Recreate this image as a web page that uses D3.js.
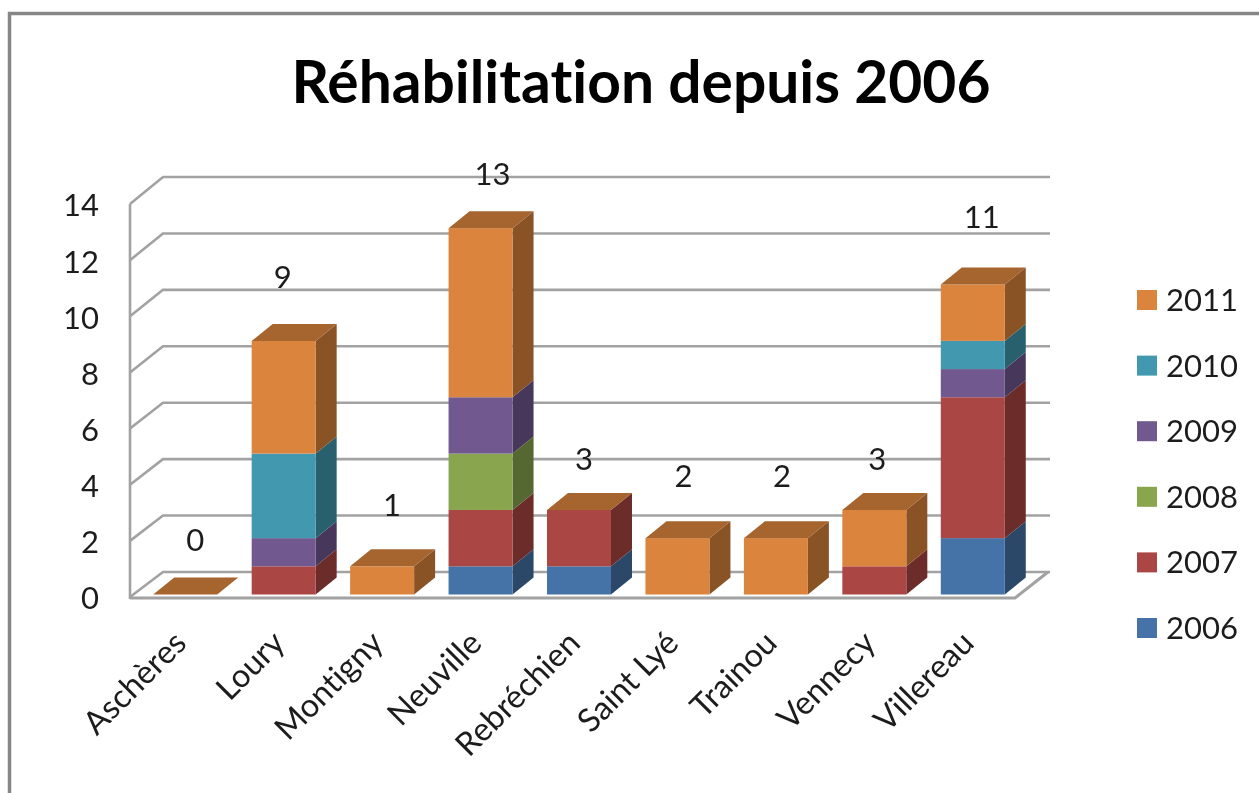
<!doctype html>
<html lang="fr">
  <head>
    <meta charset="UTF-8" />
    <title>Réhabilitation depuis 2006</title>
    <script src="https://d3js.org/d3.v7.min.js"></script>
    <style>
      html,
      body {
        margin: 0;
        background: #fff;
        overflow: hidden;
      }
      svg {
        display: block;
        filter: blur(0.45px);
      }
      text {
        font-family: Lato, 'Open Sans', sans-serif;
        font-variant-ligatures: none;
        fill: #1c1c1c;
      }
      .title {
        font-size: 58.7px;
        font-weight: 700;
        fill: #000;
        text-anchor: middle;
      }
      .wall line,
      .wall path {
        stroke: #a2a2a2;
        stroke-width: 2.6;
        fill: none;
      }
      .legend-label,
      .data-label {
        font-size: 31px;
      }
      .cat-label {
        font-size: 32.5px;
      }
      .data-label {
        text-anchor: middle;
      }
    </style>
  </head>
  <body>
    <svg id="chart" width="1259" height="793"></svg>

    <script>
      const communes = ['Aschères', 'Loury', 'Montigny', 'Neuville', 'Rebréchien', 'Saint Lyé', 'Trainou', 'Vennecy', 'Villereau']
      const years = ['2006', '2007', '2008', '2009', '2010', '2011']

      const values2006 = [0, 0, 0, 1, 1, 0, 0, 0, 2]
      const values2007 = [0, 1, 0, 2, 2, 0, 0, 1, 5]
      const values2008 = [0, 0, 0, 2, 0, 0, 0, 0, 0]
      const values2009 = [0, 1, 0, 2, 0, 0, 0, 0, 1]
      const values2010 = [0, 3, 0, 0, 0, 0, 0, 0, 1]
      const values2011 = [0, 4, 1, 6, 0, 2, 2, 2, 2]

      const yTicks = [0, 2, 4, 6, 8, 10, 12, 14]
      const colors = ['#4572a7', '#aa4643', '#89a54e', '#71588f', '#4198af', '#db843d']

      const series = [values2006, values2007, values2008, values2009, values2010, values2011]
      const rows = communes.map((c, i) => {
        const row = { commune: c }
        years.forEach((yr, k) => (row[yr] = series[k][i]))
        return row
      })
      const stacked = d3.stack().keys(years)(rows)
      const totals = rows.map((r) => d3.sum(years, (yr) => r[yr]))

      const svg = d3.select('#chart')

      // depth of the fake 3D
      const depthX = 21
      const depthY = -17

      const x = d3
        .scaleBand()
        .domain(communes)
        .range([136, 1022])
        .paddingInner(0.35)
        .paddingOuter(0.175)

      const yAxisScale = d3.scaleLinear().domain([0, 14]).range([597, 204])
      const yBack = d3.scaleLinear().domain([0, 14]).range([572, 177])
      const yBar = d3.scaleLinear().domain([0, 14]).range([594.5, 200])

      // outer frame, only left and top are visible
      svg
        .append('path')
        .attr('d', 'M9.5,793V13.5H1259')
        .attr('fill', 'none')
        .attr('stroke', '#878787')
        .attr('stroke-width', 3.5)

      svg.append('text').attr('class', 'title').attr('x', 641).attr('y', 103).text('Réhabilitation depuis 2006')

      // side wall + back gridlines
      const wall = svg.append('g').attr('class', 'wall')
      yTicks.forEach((t) => {
        wall
          .append('path')
          .attr('d', `M130,${yAxisScale(t)}L163,${yBack(t)}H1050`)
      })
      wall.append('line').attr('x1', 130).attr('x2', 130).attr('y1', yAxisScale(14)).attr('y2', yAxisScale(0) + 2)
      wall
        .append('path')
        .attr('d', `M130,${yAxisScale(0) + 1}H1015L1048,${yBack(0)}`)
        .style('stroke-width', 3)

      // tick labels
      const yAxis = d3.axisLeft(yAxisScale).tickValues(yTicks).tickSize(0).tickPadding(31)
      const axisG = svg.append('g').attr('transform', 'translate(130,2)').call(yAxis)
      axisG.select('.domain').remove()
      axisG.selectAll('text').attr('fill', null).style('font-size', '31px')
      axisG.attr('font-family', null).attr('font-size', null)

      // bars, left to right then bottom to top
      const bars = svg.append('g')
      const capColor = d3.rgb(colors[years.length - 1])
      communes.forEach((c, i) => {
        const bx = x(c)
        const bw = x.bandwidth()
        stacked.forEach((layer, k) => {
          const [y0, y1] = layer[i]
          if (y1 === y0) return
          const col = d3.rgb(colors[k])
          const py0 = yBar(y0)
          const py1 = yBar(y1)
          bars
            .append('path')
            .attr('d', `M${bx + bw},${py0}L${bx + bw + depthX},${py0 + depthY}V${py1 + depthY}L${bx + bw},${py1}Z`)
            .attr('fill', d3.rgb(col.r * 0.63, col.g * 0.63, col.b * 0.63))
          bars
            .append('rect')
            .attr('x', bx)
            .attr('y', py1)
            .attr('width', bw)
            .attr('height', py0 - py1)
            .attr('fill', col)
        })
        // cap is always the last series, which sits on top even at zero height
        const capY = yBar(totals[i])
        bars
          .append('path')
          .attr('d', `M${bx},${capY}L${bx + depthX},${capY + depthY}H${bx + bw + depthX}L${bx + bw},${capY}Z`)
          .attr('fill', d3.rgb(capColor.r * 0.76, capColor.g * 0.76, capColor.b * 0.76))
      })

      // data labels float a little unevenly in the original
      const labelNudgeX = [10, -1, 10, 12, 5, 6, 6, 3, 9]
      const labelNudgeY = [-44, -53, -50, -43, -40, -51, -51, -40, -57]
      svg
        .append('g')
        .selectAll('text')
        .data(totals)
        .join('text')
        .attr('class', 'data-label')
        .attr('x', (d, i) => x(communes[i]) + x.bandwidth() / 2 + labelNudgeX[i])
        .attr('y', (d, i) => yBar(d) + labelNudgeY[i])
        .text((d) => d)

      // category labels
      svg
        .append('g')
        .selectAll('text')
        .data(communes)
        .join('text')
        .attr('class', 'cat-label')
        .attr('text-anchor', 'end')
        .attr('transform', (d) => `translate(${x(d) + x.bandwidth() / 2 + 3},${645}) rotate(-45)`)
        .text((d) => d)

      // legend, newest on top
      const legendY = d3.scalePoint().domain(years).range([628, 300])
      const legend = svg
        .append('g')
        .selectAll('g')
        .data(years)
        .join('g')
        .attr('transform', (d) => `translate(1137,${legendY(d)})`)
      legend
        .append('rect')
        .attr('y', -10)
        .attr('width', 20)
        .attr('height', 20)
        .attr('fill', (d, i) => colors[i])
      legend
        .append('text')
        .attr('class', 'legend-label')
        .attr('x', 29)
        .attr('y', 11)
        .text((d) => d)
    </script>
  </body>
</html>
